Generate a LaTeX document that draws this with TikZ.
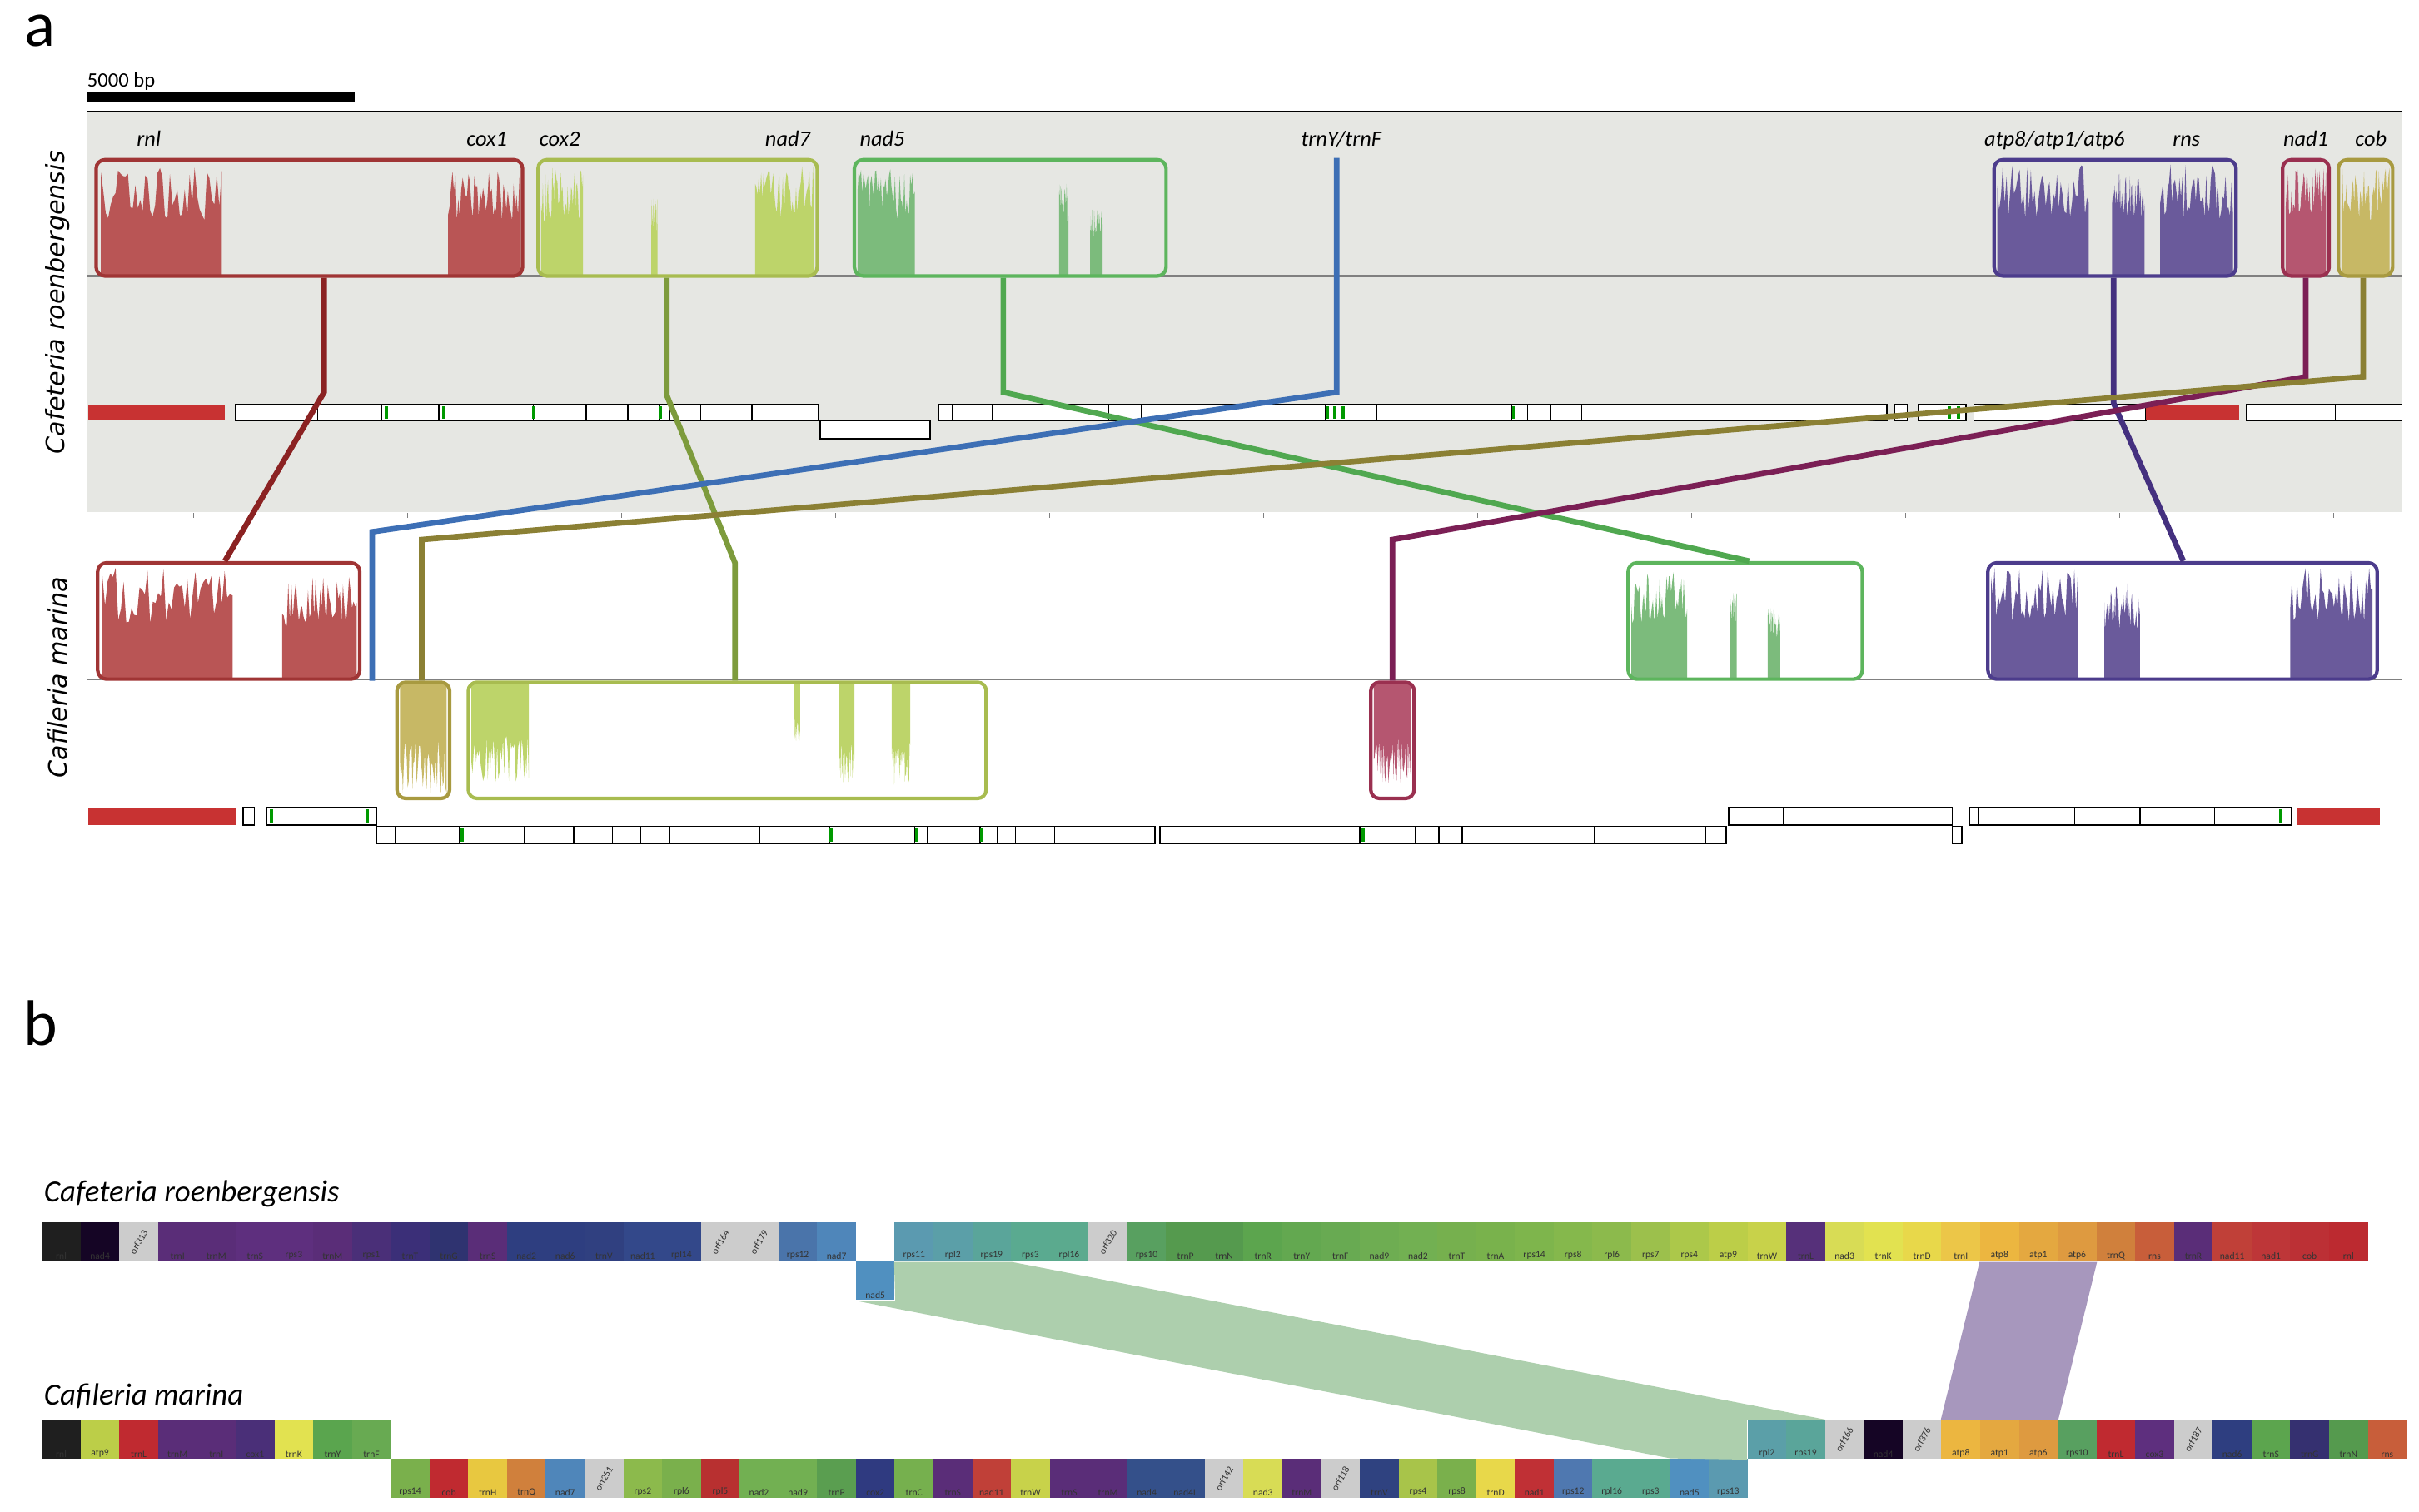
\documentclass[tikz,border=0pt]{standalone}
\usepackage{fontspec}
\setmainfont{Carlito}
\newfontfamily\vfont{DejaVu Sans}
\usepackage{xcolor}
\usepackage{tikz}
\usetikzlibrary{arrows.meta, positioning, calc}

\def\un{0.018622cm}
\pgfmathsetseed{7}
% coverage profile inside a block: x1, x2, base y, top y, colour
\newcommand{\covplot}[5]{\fill[#5] (#1,#3) -- plot[domain=#1:#2,samples=50] (\x,{#4+(#3-#4)*0.5*rnd}) -- (#2,#3) -- cycle;}
% outlined block: name, x1, y1, x2, y2, colour
\newcommand{\lcb}[6]{\node[gbox, draw=#6, minimum width={(#4-#2)*\un}, minimum height={(#5-#3)*\un}] (#1) at ({(#2+#4)/2},{(#3+#5)/2}) {};}

\definecolor{cRed}{HTML}{B95555}\definecolor{dRed}{HTML}{A03535}
\definecolor{cLim}{HTML}{BDD46A}\definecolor{dLim}{HTML}{A8BC50}
\definecolor{cGrn}{HTML}{7CBB7C}\definecolor{dGrn}{HTML}{5DB55D}
\definecolor{cPur}{HTML}{6A5A9B}\definecolor{dPur}{HTML}{4C3C8C}
\definecolor{cPnk}{HTML}{B55670}\definecolor{dPnk}{HTML}{9A3050}
\definecolor{cOli}{HTML}{C7B865}\definecolor{dOli}{HTML}{A89A40}
\definecolor{kRnl}{HTML}{8B2222}\definecolor{kCox}{HTML}{7D9B3C}
\definecolor{kNad}{HTML}{50A850}\definecolor{kTrn}{HTML}{3D6FB5}
\definecolor{kAtp}{HTML}{44307F}\definecolor{kNa1}{HTML}{7B1F55}
\definecolor{kCob}{HTML}{8B8034}\definecolor{barRed}{HTML}{C83232}
\definecolor{bgGray}{HTML}{E6E7E3}
\definecolor{bandG}{HTML}{ADCFAD}\definecolor{bandP}{HTML}{A797BD}
\definecolor{nadBlue}{HTML}{5090C0}

\tikzset{
  gbox/.style={rounded corners=3pt, line width=1.2pt, inner sep=0pt},
  cn/.style={line width=1.9pt, draw=#1},
  glab/.style={font=\fontsize{7.5}{8}\selectfont\itshape, anchor=base},
  seg/.style={draw=black, fill=white, line width=0.5pt},
  gblk/.style={minimum width={25*\un}, minimum height={25*\un}, inner sep=0pt, draw=none},
  lbl/.style={font=\fontsize{3.3}{4}\selectfont, inner sep=0.6pt, text=black!80},
  band/.style={fill=#1, draw=none},
  spec/.style={font=\fontsize{10.5}{12}\selectfont\itshape, anchor=base west, inner sep=0pt},
  spv/.style={font=\vfont\fontsize{8.6}{10}\selectfont\itshape, rotate=90},
}

\begin{document}
\begin{tikzpicture}[x=0.018622cm,y=-0.018622cm]
\useasboundingbox (0,0) rectangle (1560,975);

% panel a
\node[font=\fontsize{22}{24}\selectfont] (pa) at (26,20) {a};
\node[font=\fontsize{7}{8}\selectfont, anchor=base west, inner sep=0pt] (sb) at (56,56) {5000 bp};
\fill[black] (56,59) rectangle (229,66);
\fill[bgGray] (56,72) rectangle (1549,330);
\draw[line width=0.8pt] (56,72) -- (1549,72);
\draw[gray, line width=0.6pt] (56,178) -- (1549,178);
\draw[gray, line width=0.6pt] (56,438) -- (1549,438);
\foreach \t in {125,194,...,1549} \draw[gray, line width=0.3pt] (\t,331) -- (\t,334);

\node[spv] (sp1) at (37,195) {Cafeteria roenbergensis};
\node[spv] (sp2) at (37,437) {Cafileria marina};

% gene labels
\foreach \x/\g in {96/rnl, 314/cox1, 361/cox2, 508/nad7, 569/nad5, 865/trnY\slash trnF, 1325/atp8\slash atp1\slash atp6, 1410/rns, 1487/nad1, 1529/cob}
  \node[glab] at (\x,94) {\g};

% top genome blocks
\covplot{65}{143}{178}{106}{cRed} \covplot{289}{335}{178}{110}{cRed}
\lcb{rnlT}{62}{103}{337}{178}{dRed}
\covplot{349}{376}{178}{108}{cLim} \covplot{420}{424}{178}{128}{cLim} \covplot{487}{525}{178}{106}{cLim}
\lcb{coxT}{347}{103}{527}{178}{dLim}
\covplot{553}{590}{178}{108}{cGrn} \covplot{683}{689}{178}{118}{cGrn} \covplot{703}{711}{178}{135}{cGrn}
\lcb{nadT}{551}{103}{752}{178}{dGrn}
\covplot{1288}{1347}{178}{106}{cPur} \covplot{1362}{1383}{178}{112}{cPur} \covplot{1393}{1440}{178}{106}{cPur}
\lcb{atpT}{1286}{103}{1442}{178}{dPur}
\covplot{1474}{1500}{178}{106}{cPnk}
\lcb{na1T}{1472}{103}{1502}{178}{dPnk}
\covplot{1510}{1541}{178}{106}{cOli}
\lcb{cobT}{1508}{103}{1543}{178}{dOli}

% bottom genome blocks
\covplot{66}{150}{438}{366}{cRed} \covplot{182}{230}{438}{370}{cRed}
\lcb{rnlB}{63}{363}{232}{438}{dRed}
\covplot{1052}{1088}{438}{368}{cGrn} \covplot{1116}{1120}{438}{380}{cGrn} \covplot{1140}{1148}{438}{392}{cGrn}
\lcb{nadB}{1050}{363}{1201}{438}{dGrn}
\covplot{1284}{1340}{438}{366}{cPur} \covplot{1357}{1380}{438}{376}{cPur} \covplot{1477}{1530}{438}{366}{cPur}
\lcb{atpB}{1282}{363}{1533}{438}{dPur}
\covplot{258}{288}{440}{512}{cOli}
\lcb{cobB}{256}{440}{290}{515}{dOli}
\covplot{304}{341}{440}{506}{cLim} \covplot{512}{516}{440}{478}{cLim} \covplot{541}{551}{440}{506}{cLim} \covplot{575}{587}{440}{508}{cLim}
\lcb{coxB}{302}{440}{636}{515}{dLim}
\covplot{886}{910}{440}{506}{cPnk}
\lcb{na1B}{884}{440}{912}{515}{dPnk}

% top genome annotation bar
\fill[barRed] (57,261) rectangle (145,271);
\draw[seg] (152,261) rectangle (528,271);
\foreach \d in {205,246,283,344,378,405,425,432,452,470,485} \draw (\d,261) -- (\d,271);
\draw[seg] (529,271) rectangle (600,283);
\draw[seg] (605,261) rectangle (1217,271);
\foreach \d in {614,640,650,715,736,855,888,975,985,1000,1020,1048} \draw (\d,261) -- (\d,271);
\draw[seg] (1222,261) rectangle (1230,271);
\draw[seg] (1237,261) rectangle (1268,271);
\draw[seg] (1273,261) rectangle (1384,271);
\fill[barRed] (1384,261) rectangle (1444,271);
\draw[seg] (1449,261) rectangle (1549,271);
\foreach \d in {1475,1506} \draw (\d,261) -- (\d,271);
\foreach \g in {248,285,343,425,855,860,865,975,1256,1262} \fill[green!60!black] (\g,262) rectangle +(2,8);

% bottom genome annotation bar
\fill[barRed] (57,521) rectangle (152,532);
\draw[seg] (157,521) rectangle (164,532);
\draw[seg] (172,521) rectangle (243,532);
\draw[seg] (1115,521) rectangle (1259,532);
\foreach \d in {1141,1150,1170} \draw (\d,521) -- (\d,532);
\draw[seg] (1270,521) rectangle (1478,532);
\foreach \d in {1276,1338,1380,1395,1428} \draw (\d,521) -- (\d,532);
\fill[barRed] (1481,521) rectangle (1535,532);
\draw[seg] (243,533) rectangle (745,544);
\foreach \d in {255,296,303,338,370,395,413,432,490,535,590,598,632,643,655,680,695} \draw (\d,533) -- (\d,544);
\draw[seg] (748,533) rectangle (1113,544);
\foreach \d in {877,913,928,943,1028,1100} \draw (\d,533) -- (\d,544);
\draw[seg] (1259,533) rectangle (1265,544);
\foreach \g in {174,236,1470} \fill[green!60!black] (\g,522) rectangle +(2,9);
\foreach \g in {297,535,590,632,878} \fill[green!60!black] (\g,534) rectangle +(2,9);

% connectors
\coordinate (b1) at (209,253); \coordinate (b2) at (430,255); \coordinate (b3) at (474,363);
\coordinate (b4) at (647,253); \coordinate (b5) at (862,253); \coordinate (b6) at (240,343);
\coordinate (b7) at (1363,260); \coordinate (b8) at (1487,243); \coordinate (b9) at (898,348);
\coordinate (b10) at (1524,243); \coordinate (b11) at (272,348);
\coordinate (e1) at (145,363); \coordinate (e2) at (1128,363); \coordinate (e3) at (1408,363);
\draw[cn=kRnl] (rnlT.south -| b1) -- (b1) -- (rnlB.north -| e1);
\draw[cn=kCox] (coxT.south -| b2) -- (b2) -- (b3) -- (coxB.north -| b3);
\draw[cn=kNad] (nadT.south -| b4) -- (b4) -- (nadB.north -| e2);
\draw[cn=kTrn] (nadT.north -| b5) -- (b5) -- (b6) -- (rnlB.south -| b6);
\draw[cn=kAtp] (atpT.south -| b7) -- (b7) -- (atpB.north -| e3);
\draw[cn=kNa1] (na1T.south -| b8) -- (b8) -- (b9) -- (na1B.north -| b9);
\draw[cn=kCob] (cobT.south -| b10) -- (b10) -- (b11) -- (cobB.north -| b11);

% panel b
\node[font=\fontsize{22}{24}\selectfont] (pb) at (26,660) {b};
\node[spec] (s1) at (28,775) {Cafeteria roenbergensis};
\node[spec] (s2) at (28,906) {Cafileria marina};

% top row, C. roenbergensis
\foreach \nm/\col/\an/\rot [count=\i] in {rnl/1F1F1F/south/0, nad4/150525/south/0, orf313/CCCCCC/center/60,
  trnI/5A2D78/south/0, trnM/5A2D78/south/0, trnS/5E2F7E/south/0, rps3/5E2F7E/south/0, trnM/5A2D78/south/0,
  rps1/4A2F78/south/0, trnT/3B2F78/south/0, trnG/2F3370/south/0, trnS/5A2D78/south/0, nad2/2E3E80/south/0,
  nad6/2E3E80/south/0, trnV/304080/south/0, nad11/33488A/south/0, rpl14/33488A/south/0, orf164/CCCCCC/center/60,
  orf179/CCCCCC/center/60, rps12/4A74AA/south/0, nad7/4F86BA/south/0}
{ \definecolor{bc}{HTML}{\col}
  \node[gblk, fill=bc, label={[lbl, rotate=\rot, anchor=\an]\an:\nm}] (cr\i) at ({27+(\i-0.5)*25},801) {}; }
\foreach \nm/\col/\an/\rot [count=\i, evaluate=\i as \s using int(\i+22)] in {rps11/5B9AB0/south/0, rpl2/5B9FA8/south/0,
  rps19/5AA59A/south/0, rps3/5AAA90/south/0, rpl16/5BAA8E/south/0, orf320/CCCCCC/center/60, rps10/58A060/south/0,
  trnP/559A4E/south/0, trnN/559A4E/south/0, trnR/5CA54E/south/0, trnY/63A850/south/0, trnF/68AA52/south/0,
  nad9/6EAD52/south/0, nad2/72B052/south/0, trnT/76B04E/south/0, trnA/79B24C/south/0, rps14/7EB54C/south/0,
  rps8/85B84C/south/0, rpl6/8CBA4C/south/0, rps7/9CC04C/south/0, rps4/ACC84A/south/0, atp9/BCCE48/south/0,
  trnW/C8D24A/south/0, trnL/56307A/south/0, nad3/D8DC55/south/0, trnK/E2E250/south/0, trnD/E8D84A/south/0,
  trnI/ECC648/south/0, atp8/ECB640/south/0, atp1/E4A840/south/0, atp6/DE9A40/south/0, trnQ/D0803C/south/0,
  rns/C85E3A/south/0, trnR/5A2D78/south/0, nad11/C04038/south/0, nad1/BE3638/south/0, cob/BC3035/south/0,
  rnl/BC2A30/south/0}
{ \definecolor{bc}{HTML}{\col}
  \node[gblk, fill=bc, label={[lbl, rotate=\rot, anchor=\an]\an:\nm}] (cr\s) at ({27+(\s-0.5)*25},801) {}; }
\node[gblk, fill=nadBlue, label={[lbl, anchor=south]south:nad5}] (cr22) at (564.5,826) {};

% bottom row, C. marina
\foreach \nm/\col/\an/\rot [count=\i] in {rnl/1F1F1F/south/0, atp9/BCCE48/south/0, trnL/C02A30/south/0,
  trnM/5A2D78/south/0, trnI/5A2D78/south/0, cox1/4A2F78/south/0, trnK/E2E250/south/0, trnY/5AA54E/south/0,
  trnF/68AA52/south/0}
{ \definecolor{bc}{HTML}{\col}
  \node[gblk, fill=bc, label={[lbl, rotate=\rot, anchor=\an]\an:\nm}] (cmU\i) at ({27+(\i-0.5)*25},928.5) {}; }
\foreach \nm/\col/\an/\rot [count=\i] in {rps14/7AB04C/south/0, cob/C02A30/south/0, trnH/E8C840/south/0,
  trnQ/D0803C/south/0, nad7/4F86BA/south/0, orf251/CCCCCC/center/60, rps2/8CBA4C/south/0, rpl6/7AB04C/south/0,
  rpl5/B83030/south/0, nad2/72B052/south/0, nad9/72B052/south/0, trnP/5A9E50/south/0, cox2/2F3A80/south/0,
  trnC/76B04E/south/0, trnS/5A2D78/south/0, nad11/C04038/south/0, trnW/C8D24A/south/0, trnS/5A2D78/south/0,
  trnM/5A2D78/south/0, nad4/34508A/south/0, nad4L/34508A/south/0, orf142/CCCCCC/center/60, nad3/D8DC55/south/0,
  trnM/5A2D78/south/0, orf118/CCCCCC/center/60, trnV/2F4280/south/0, rps4/A8C44A/south/0, rps8/7AB04C/south/0,
  trnD/E8D84A/south/0, nad1/C03035/south/0, rps12/4F78B0/south/0, rpl16/5AAA90/south/0, rps3/5AAA90/south/0,
  nad5/5090C0/south/0, rps13/5B9AB0/south/0}
{ \definecolor{bc}{HTML}{\col}
  \node[gblk, fill=bc, label={[lbl, rotate=\rot, anchor=\an]\an:\nm}] (cmL\i) at ({252+(\i-0.5)*25},953.5) {}; }
\foreach \nm/\col/\an/\rot [count=\i] in {rpl2/5B9FA8/south/0, rps19/5AA59A/south/0, orf166/CCCCCC/center/60,
  nad4/150525/south/0, orf376/CCCCCC/center/60, atp8/ECB640/south/0, atp1/E4A840/south/0, atp6/DE9A40/south/0,
  rps10/58A060/south/0, trnL/C02A30/south/0, cox3/5E2F7E/south/0, orf187/CCCCCC/center/60, nad6/2E3E80/south/0,
  trnS/5CA54E/south/0, trnG/353070/south/0, trnN/559A4E/south/0, rns/C85E3A/south/0}
{ \definecolor{bc}{HTML}{\col}
  \node[gblk, fill=bc, label={[lbl, rotate=\rot, anchor=\an]\an:\nm}] (cmR\i) at ({1127+(\i-0.5)*25},928.5) {}; }

% synteny bands
\fill[band=bandG] (cr23.south west) -- (cr25.south east) -- (cmR2.north east)
  -- (cmR1.north west) -- (cmR1.south west) -- (cmL33.north east) -- (cr22.south west) -- (cr22.south east) -- cycle;
\fill[band=bandP] (cr51.south west) -- (cr53.south east) -- (cmR8.north east) -- (cmR6.north west) -- cycle;
\end{tikzpicture}
\end{document}
